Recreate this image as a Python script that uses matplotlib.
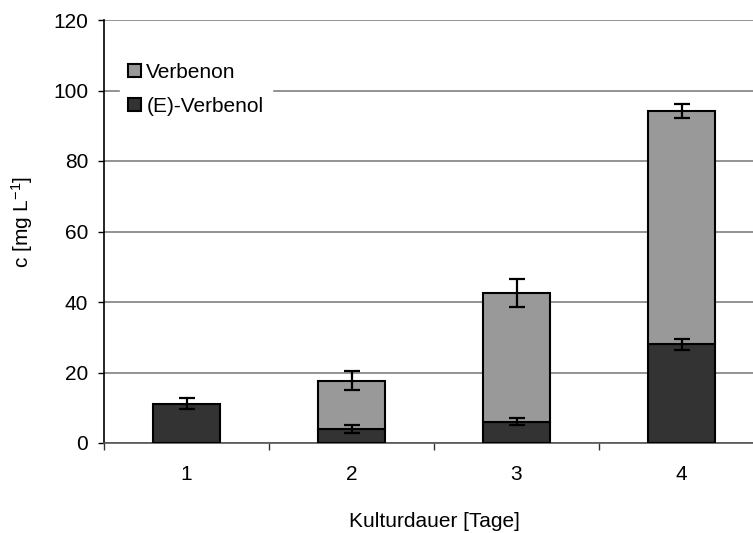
import matplotlib
matplotlib.use("Agg")
import matplotlib.pyplot as plt
import numpy as np
from matplotlib.patches import Patch

categories = ["1", "2", "3", "4"]
verbenol = [11.2, 3.9, 6.0, 28.0]
verbenol_err = [1.6, 1.1, 1.0, 1.5]
verbenon = [0.0, 13.7, 36.5, 66.3]
total_err = [0.0, 2.7, 4.0, 2.0]
yticks = [0, 20, 40, 60, 80, 100, 120]

plt.rcParams['font.family'] = ['Liberation Sans', 'DejaVu Sans']
plt.rcParams['mathtext.default'] = 'regular'
FS = 15
fig = plt.figure(figsize=(7.53, 5.33), dpi=100)
ax = fig.add_axes([104/753, 90/533, 660/753, 423/533])

x = np.arange(len(categories))
w = 0.405
dark = '#333333'
light = '#999999'

ax.bar(x, verbenol, w, color=dark, edgecolor='black', linewidth=1.5, zorder=3)
mask = np.array(verbenon) > 0
ax.bar(x[mask], np.array(verbenon)[mask], w, bottom=np.array(verbenol)[mask],
       color=light, edgecolor='black', linewidth=1.5, zorder=3)
ax.errorbar(x, verbenol, yerr=verbenol_err, fmt='none', ecolor='black',
            elinewidth=1.6, capsize=5.5, capthick=1.6, zorder=4)
tot = np.array(verbenol) + np.array(verbenon)
ax.errorbar(x[mask], tot[mask], yerr=np.array(total_err)[mask], fmt='none',
            ecolor='black', elinewidth=1.6, capsize=5.5, capthick=1.6, zorder=4)

ax.set_xlim(-0.5, 3.5)
ax.set_ylim(0, 120)
ax.set_yticks(yticks)
ax.set_yticklabels([str(v) for v in yticks], fontsize=FS)
ax.set_xticks(x)
ax.set_xticklabels(categories, fontsize=FS)
ax.tick_params(axis='x', which='major', length=0, pad=16)
ax.set_xticks(np.arange(-0.5, 4, 1.0), minor=True)
ax.tick_params(axis='x', which='minor', length=5, width=1, color='#333333')
ax.tick_params(axis='y', length=4.5, width=1, pad=7)

ax.grid(axis='y', color='#808080', linewidth=1.2, zorder=0)
ax.set_axisbelow(True)
for s in ['top', 'right']:
    ax.spines[s].set_visible(False)
ax.spines['left'].set_color('black')
ax.spines['left'].set_linewidth(1.2)
ax.spines['bottom'].set_color('#555555')
ax.spines['bottom'].set_linewidth(1.2)

ax.set_ylabel('c [mg L$^{-1}$]', fontsize=FS)
ax.yaxis.set_label_coords(-0.104, 0.522)
ax.set_xlabel('Kulturdauer [Tage]', fontsize=FS, labelpad=20)

handles = [Patch(facecolor=light, edgecolor='black', linewidth=1.5, label='Verbenon'),
           Patch(facecolor=dark, edgecolor='black', linewidth=1.5, label='(E)-Verbenol')]
leg = ax.legend(handles=handles, loc='upper left', bbox_to_anchor=(0.024, 0.918),
                frameon=True, fancybox=False, edgecolor='white', framealpha=1,
                fontsize=FS, handlelength=0.62, handleheight=0.62,
                handletextpad=0.25, labelspacing=0.7, borderpad=0.4,
                borderaxespad=0)
leg.set_zorder(5)

fig.savefig('out.png', dpi=100)
